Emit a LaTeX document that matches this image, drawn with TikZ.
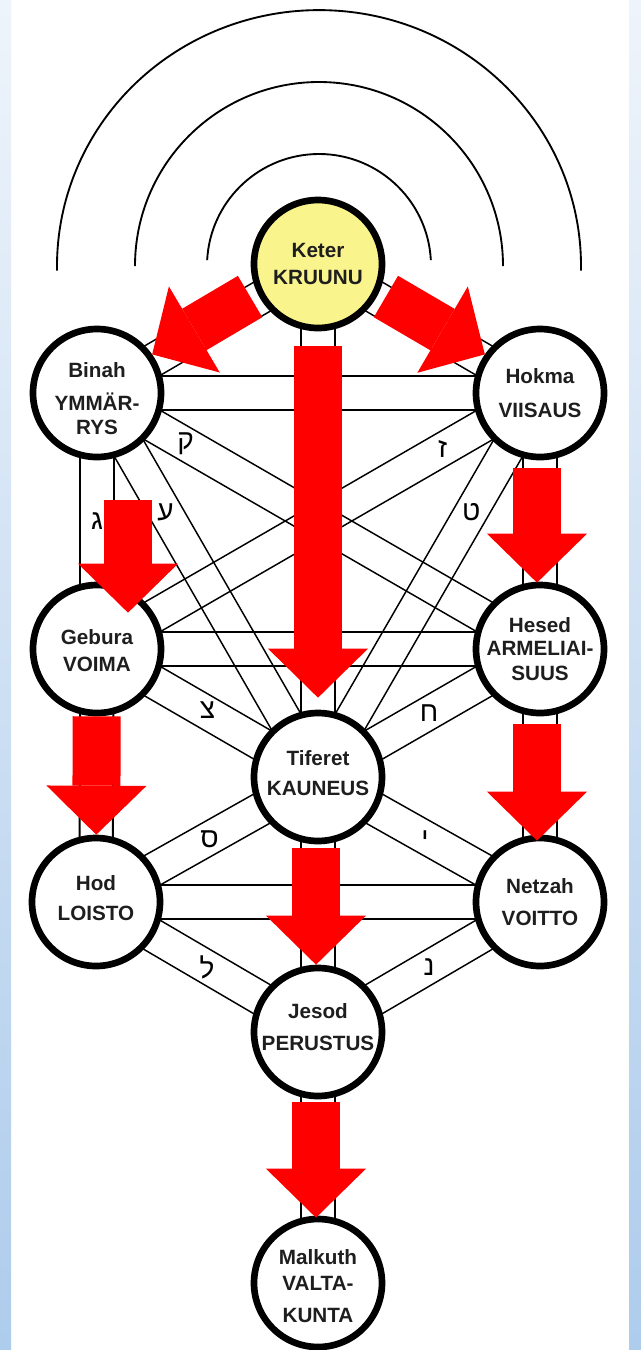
\documentclass[tikz,border=0pt]{standalone}
\usepackage{fontspec}
\setsansfont{Liberation Sans}
\newfontfamily\hebfont[Script=Hebrew]{Liberation Sans}
\usetikzlibrary{calc,arrows.meta,backgrounds}
\TeXXeTstate=1

\definecolor{keteryellow}{RGB}{249,245,140}
\definecolor{flowred}{RGB}{255,0,0}
\definecolor{edgeblue}{RGB}{174,204,236}
\definecolor{edgepale}{RGB}{238,244,251}
\definecolor{labelgray}{RGB}{30,30,30}

% half the width of a double path
\newcommand\chgap{12.5pt}
\newcommand\channel[3][]{%
  \draw[pathline,#1] ($(#2.center)!\chgap!90:(#3.center)$) -- ($(#3.center)!\chgap!-90:(#2.center)$);
  \draw[pathline,#1] ($(#2.center)!\chgap!-90:(#3.center)$) -- ($(#3.center)!\chgap!90:(#2.center)$);
}

\tikzset{
  sefira/.style={circle, draw=black, line width=5pt, fill=white, minimum size=96pt, inner sep=0pt},
  sefiratext/.style={align=center, text=labelgray, inner sep=0pt, font=\sffamily\bfseries\fontsize{15.5}{19}\selectfont},
  pathline/.style={draw=black, line width=1.1pt},
  straight/.style={line width=1.5pt},
  halo/.style={draw=black, line width=1.4pt},
  flow/.style={draw=flowred, line width=36pt, -{Triangle[width=75pt,length=36.75pt,line width=0pt]}},
  letter/.style={inner sep=0pt, text=black, font=\hebfont\fontsize{21}{21}\selectfont}
}

\begin{document}
\begin{tikzpicture}[x=0.75pt,y=-0.75pt]
\useasboundingbox (0,0) rectangle (641,1350);

%Shape: Circle
\node[sefira, fill=keteryellow, label={[sefiratext]center:{Keter\\[1pt]KRUUNU}}] (keter) at (318,264) {};
%Shape: Circle
\node[sefira, label={[sefiratext,yshift=-4pt]center:{Binah\\[6pt]YMMÄR-\\[-1pt]RYS}}] (binah) at (97,393) {};
%Shape: Circle
\node[sefira, label={[sefiratext]center:{Hokma\\[6pt]VIISAUS}}] (hokma) at (540,393) {};
%Shape: Circle
\node[sefira, label={[sefiratext,yshift=-1pt]center:{Gebura\\[1pt]VOIMA}}] (gebura) at (97,649) {};
%Shape: Circle
\node[sefira, label={[sefiratext]center:{Hesed\\[-2pt]ARMELIAI-\\SUUS}}] (hesed) at (540,649) {};
%Shape: Circle
\node[sefira, label={[sefiratext,yshift=3pt]center:{Tiferet\\[3.5pt]KAUNEUS}}] (tiferet) at (318,777) {};
%Shape: Circle
\node[sefira, label={[sefiratext,yshift=3pt]center:{Hod\\[4pt]LOISTO}}] (hod) at (96,902) {};
%Shape: Circle
\node[sefira, label={[sefiratext]center:{Netzah\\[5pt]VOITTO}}] (netzah) at (540,902) {};
%Shape: Circle
\node[sefira, label={[sefiratext,yshift=4pt]center:{Jesod\\[5pt]PERUSTUS}}] (jesod) at (318,1032) {};
%Shape: Circle
\node[sefira, label={[sefiratext,yshift=-2pt]center:{Malkuth\\[0.5pt]VALTA-\\[5pt]KUNTA}}] (malkuth) at (318,1283) {};

\begin{scope}[on background layer]
\fill[white] (11,0) rectangle (629,1350);
\shade[top color=edgepale, bottom color=edgeblue] (0,0) rectangle (11,1350);
\shade[top color=edgepale, bottom color=edgeblue] (629,0) rectangle (641,1350);

%Shape: Arc
\coordinate (halo) at (319,266);
\draw[halo] ($(halo)+(3:84pt)$) arc[start angle=3, end angle=177, radius=84pt];
\draw[halo] ($(halo)+(0:138pt)$) arc[start angle=0, end angle=180, radius=138pt];
\draw[halo] ($(halo)+(-1:196.5pt)$) arc[start angle=-1, end angle=181, x radius=196.5pt, y radius=192pt];

%Straight Lines
\channel{keter}{binah}
\channel{keter}{hokma}
\channel[straight]{keter}{tiferet}
\channel[straight]{binah}{hokma}
\channel[straight]{binah}{gebura}
\channel[straight]{hokma}{hesed}
\channel{binah}{tiferet}
\channel{hokma}{tiferet}
\channel{binah}{hesed}
\channel{hokma}{gebura}
\channel[straight]{gebura}{hesed}
\channel{gebura}{tiferet}
\channel{hesed}{tiferet}
\channel[straight]{gebura}{hod}
\channel[straight]{hesed}{netzah}
\channel{tiferet}{hod}
\channel{tiferet}{netzah}
\channel[straight]{hod}{netzah}
\channel[straight]{tiferet}{jesod}
\channel{hod}{jesod}
\channel{netzah}{jesod}
\channel[straight]{jesod}{malkuth}
\end{scope}

% Text Node
\path (binah.center) -- (hesed.center) node[letter,pos=0.2] {\beginR ק\endR};
\path (hokma.center) -- (gebura.center) node[letter,pos=0.22] {\beginR ז\endR};
\path (binah.center) -- (tiferet.center) node[letter,pos=0.31] {\beginR ע\endR};
\path (hokma.center) -- (tiferet.center) node[letter,pos=0.31] {\beginR ט\endR};
\path (binah.center) -- (gebura.center) node[letter,midway] {\beginR ג\endR};
\path (gebura.center) -- (tiferet.center) node[letter,midway,yshift=2pt] {\beginR צ\endR};
\path (hesed.center) -- (tiferet.center) node[letter,midway] {\beginR ח\endR};
\path (hod.center) -- (tiferet.center) node[letter,midway,xshift=2pt] {\beginR ס\endR};
\path (netzah.center) -- (tiferet.center) node[letter,midway,xshift=-3pt] {\beginR י\endR};
\path (hod.center) -- (jesod.center) node[letter,midway] {\beginR ל\endR};
\path (netzah.center) -- (jesod.center) node[letter,midway] {\beginR נ\endR};

%Block Arrows
\draw[flow, shorten <=11pt, shorten >=9pt] (keter) -- (tiferet);
\draw[flow, shorten <=6pt] (keter.205) -- (binah.35);
\draw[flow, shorten <=6pt] (keter.-25) -- (hokma.145);
\draw[flow] ($(binah.south)+(31,40)$) -- ($(gebura.north)+(31,31)$);
\draw[flow] ($(hokma.south)+(-3,8)$) -- ($(hesed.north)+(-3,1)$);
\draw[flow] (gebura) -- (hod);
\draw[flow] ($(hesed.south)+(-3,8)$) -- ($(netzah.north)+(-3,6)$);
\draw[flow] ($(tiferet.south)+(-2,4)$) -- ($(jesod.north)+(-2,0)$);
\draw[flow] ($(jesod.south)+(-2,3)$) -- ($(malkuth.north)+(-2,2)$);

\end{tikzpicture}
\end{document}
